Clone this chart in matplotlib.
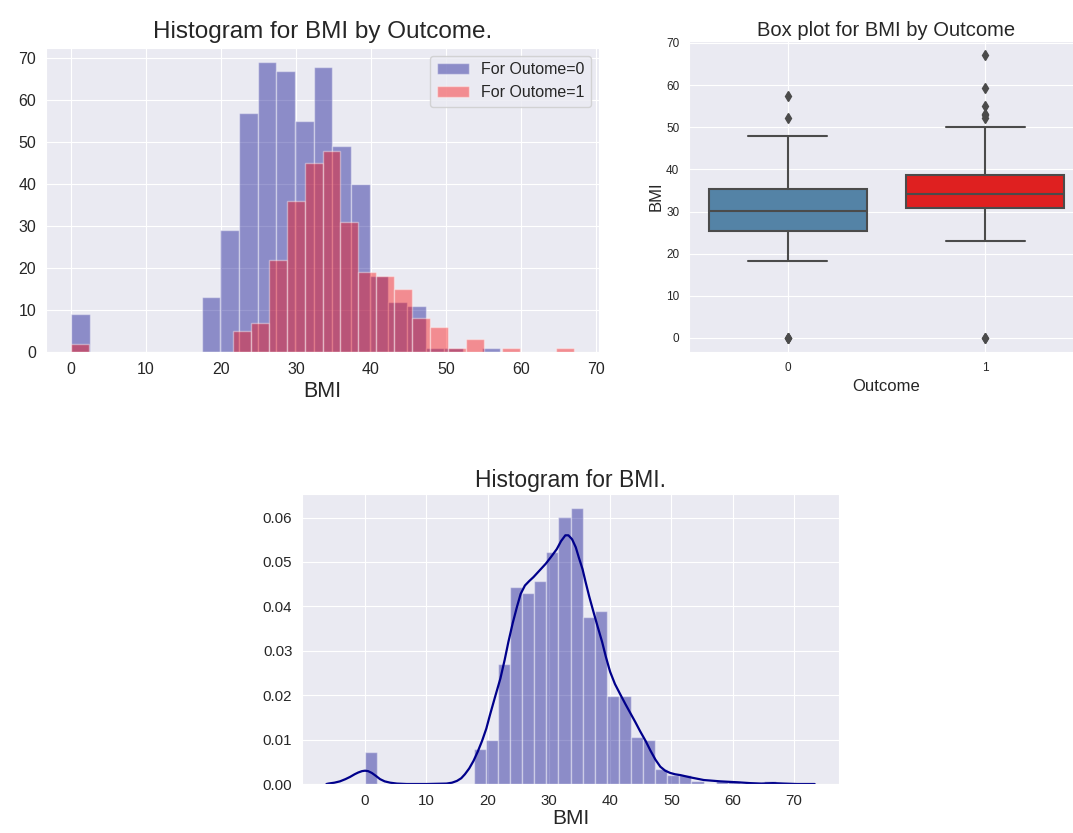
import numpy as np
import matplotlib
matplotlib.use("Agg")
import matplotlib.pyplot as plt
import seaborn as sns

# BMI counts per bin, split by outcome (0..57.3 in 23 bins, 0..67.1 in 28 bins)
bmi_range_0 = (0.0, 57.3)
counts_0 = [9, 0, 0, 0, 0, 0, 0, 13, 29, 57, 69, 67, 55, 68, 49, 40,
            18, 12, 11, 1, 1, 0, 1]
bmi_range_1 = (0.0, 67.1)
counts_1 = [2, 0, 0, 0, 0, 0, 0, 0, 0, 5, 7, 22, 36, 45, 48, 31, 19,
            18, 15, 8, 6, 1, 3, 0, 1, 0, 0, 1]

# all patients, 34 bins over 0..67.1
bmi_range_all = (0.0, 67.1)
counts_all = [11, 0, 0, 0, 0, 0, 0, 0, 0, 12, 15, 41, 67, 65, 69, 79, 91,
              94, 57, 59, 30, 30, 16, 15, 5, 3, 3, 1, 0, 1, 1, 0, 0, 1]

# kernel density estimate of BMI
kde_x = [-6.3, -6.0, -5.0, -4.1, -3.2, -2.45, -1.7, -1.1, -0.5, 0.0, 0.5,
         1.1, 1.8, 2.45, 3.2, 4.1, 5.2, 6.8, 10.0, 13.3, 14.2, 15.0, 15.7,
         16.3, 17.0, 17.7, 18.4, 19.1, 19.8, 20.4, 21.2, 22.1, 22.8, 23.4,
         24.1, 24.8, 25.4, 26.1, 26.8, 27.5, 28.5, 29.5, 30.4, 31.3, 32.0,
         32.7, 33.2, 33.8, 34.4, 34.9, 35.5, 36.0, 36.6, 37.3, 38.0, 38.7,
         39.3, 40.0, 40.8, 41.7, 42.5, 43.3, 44.1, 44.9, 45.8, 46.6, 47.4,
         48.2, 49.0, 49.8, 50.6, 51.5, 53.1, 55.3, 58.0, 60.7, 62.9, 64.7,
         66.6, 68.4, 70.5, 73.4]
kde_y = [0.0, 0.0001, 0.0003, 0.0006, 0.0011, 0.0016, 0.0022, 0.0026,
         0.0029, 0.0030, 0.0029, 0.0025, 0.0018, 0.0011, 0.0006, 0.0003,
         0.0001, 0.0, 0.0, 0.0001, 0.0003, 0.0007, 0.0013, 0.0022, 0.0035,
         0.0052, 0.0073, 0.0097, 0.0125, 0.0156, 0.0195, 0.0238, 0.0280,
         0.0320, 0.0362, 0.0399, 0.0428, 0.0447, 0.0457, 0.0466, 0.0481,
         0.0496, 0.0512, 0.0529, 0.0547, 0.0560, 0.0560, 0.0551, 0.0533,
         0.0510, 0.0484, 0.0455, 0.0422, 0.0387, 0.0353, 0.0320, 0.0287,
         0.0253, 0.0225, 0.0201, 0.0180, 0.0160, 0.0140, 0.0119, 0.0097,
         0.0075, 0.0055, 0.0039, 0.0030, 0.0025, 0.0022, 0.0020, 0.0015,
         0.0009, 0.0006, 0.0004, 0.0002, 0.0001, 0.0002, 0.0001, 0.0, 0.0]

# box plot summary per outcome
outcomes = ["0", "1"]
box_q1 = [25.4, 30.8]
box_med = [30.05, 34.25]
box_q3 = [35.3, 38.775]
whisk_lo = [18.2, 22.9]
whisk_hi = [47.9, 50.0]
fliers = [[0.0, 0.0, 0.0, 52.3, 57.3],
          [0.0, 0.0, 52.3, 52.9, 53.2, 55.0, 59.4, 67.1]]
box_colors = ["#5483a6", "#df2020"]

sns.set_style("darkgrid")
plt.rcParams["font.family"] = ["Liberation Sans", "DejaVu Sans"]
text_col = "0.15"
plt.rcParams["text.color"] = text_col
plt.rcParams["axes.labelcolor"] = text_col
plt.rcParams["xtick.color"] = text_col
plt.rcParams["ytick.color"] = text_col


def hist_counts(ax, counts, rng, **kw):
    edges = np.linspace(rng[0], rng[1], len(counts) + 1)
    return ax.hist(edges[:-1], bins=edges, weights=counts,
                   edgecolor="white", linewidth=1, alpha=0.4, **kw)


fig = plt.figure(figsize=(10.73, 8.33), dpi=100)

# histogram by outcome
ax1 = fig.add_axes([0.0429, 0.5774, 0.5154, 0.365])
hist_counts(ax1, counts_0, bmi_range_0, color="darkblue", label="For Outome=0")
hist_counts(ax1, counts_1, bmi_range_1, color="red", label="For Outome=1")
ax1.set_xticks(range(0, 71, 10))
ax1.set_yticks(range(0, 71, 10))
ax1.tick_params(labelsize=11.5)
ax1.set_xlabel("BMI", fontsize=15.5, labelpad=3)
ax1.set_title("Histogram for BMI by Outcome.", fontsize=17.5, pad=7)
ax1.legend(loc="upper right", fontsize=11.5)

# box plot by outcome
ax2 = fig.add_axes([0.6421, 0.5774, 0.3681, 0.3733])
stats = []
for i in range(len(outcomes)):
    stats.append(dict(med=box_med[i], q1=box_q1[i], q3=box_q3[i],
                      whislo=whisk_lo[i], whishi=whisk_hi[i],
                      fliers=fliers[i], label=outcomes[i]))
gray = "#4b4b4b"
bp = ax2.bxp(stats, positions=[0, 1], widths=0.8, patch_artist=True,
             boxprops=dict(edgecolor=gray, linewidth=1.5),
             medianprops=dict(color=gray, linewidth=1.5),
             whiskerprops=dict(color=gray, linewidth=1.5),
             capprops=dict(color=gray, linewidth=1.5),
             flierprops=dict(marker="d", markerfacecolor=gray,
                             markeredgecolor=gray, markersize=5))
for patch, c in zip(bp["boxes"], box_colors):
    patch.set_facecolor(c)
ax2.set_xlim(-0.5, 1.5)
ax2.set_yticks(range(0, 71, 10))
ax2.tick_params(labelsize=8.5)
ax2.set_xlabel("Outcome", fontsize=12)
ax2.set_ylabel("BMI", fontsize=12, labelpad=2)
ax2.set_title("Box plot for BMI by Outcome", fontsize=14.5, pad=4)

# overall distribution
ax3 = fig.add_axes([0.2815, 0.0588, 0.5005, 0.3481])
edges_all = np.linspace(bmi_range_all[0], bmi_range_all[1], len(counts_all) + 1)
ax3.hist(edges_all[:-1], bins=edges_all, weights=counts_all, density=True,
         color="darkblue", alpha=0.4, edgecolor="white", linewidth=1)
ax3.plot(kde_x, kde_y, color="darkblue", linewidth=1.6)
ax3.set_xticks(range(0, 71, 10))
ax3.set_yticks([0.0, 0.01, 0.02, 0.03, 0.04, 0.05, 0.06])
ax3.yaxis.set_major_formatter(matplotlib.ticker.FormatStrFormatter("%.2f"))
ax3.tick_params(labelsize=10.8)
ax3.set_xlabel("BMI", fontsize=15, labelpad=1)
ax3.set_title("Histogram for BMI.", fontsize=16.5, pad=5)

fig.savefig("out.png", dpi=100)
